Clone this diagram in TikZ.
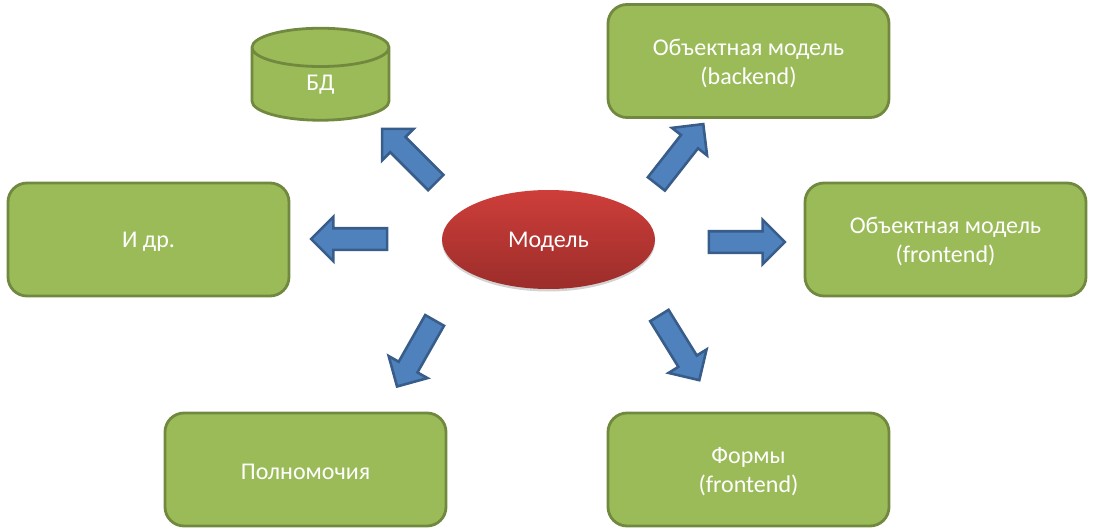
\documentclass[tikz,border=0pt]{standalone}
\usepackage{fontspec}
\setmainfont{Carlito}
\usetikzlibrary{shapes.geometric,shapes.arrows,shadows}
\definecolor{boxgreen}{RGB}{155,187,89}
\definecolor{boxline}{RGB}{113,137,63}
\definecolor{arrowblue}{RGB}{79,129,189}
\definecolor{arrowline}{RGB}{56,93,138}
\definecolor{ovaltop}{RGB}{206,62,58}
\definecolor{ovalbottom}{RGB}{155,45,42}
\newcommand{\lowtext}[1]{\raisebox{-2pt}[\height][\depth]{#1}}
\tikzset{
  greenbox/.style={rectangle,rounded corners=19pt,draw=boxline,fill=boxgreen,line width=2.8pt,
    minimum width=281pt,minimum height=113pt,text=white,align=center,inner sep=0,outer sep=0,
    font=\fontsize{24}{29}\selectfont},
  bluearrow/.style={single arrow,draw=arrowline,fill=arrowblue,line width=2.6pt,inner sep=0,inner ysep=9.5pt,
    outer sep=0,minimum height=76pt,single arrow head extend=11.5pt,single arrow tip angle=90},
}
\begin{document}
\begin{tikzpicture}[x=1pt,y=-1pt]
  \useasboundingbox (0,0) rectangle (1093,532);
  \node (model) at (548.5,239.5) [ellipse,minimum width=213pt,minimum height=99pt,inner sep=0,outer sep=0,
    top color=ovaltop,bottom color=ovalbottom,text=white,font=\fontsize{24}{29}\selectfont,
    drop shadow={shadow xshift=0pt,shadow yshift=-2.5pt,opacity=.35}] {\lowtext{Модель}};
  \node (db) at (320.5,84.5) [cylinder,shape border rotate=90,aspect=1.35,minimum width=137pt,minimum height=92pt,
    draw=boxline,fill=boxgreen,line width=2.8pt,inner sep=0,outer sep=0,text=white,
    font=\fontsize{24}{29}\selectfont] {БД};
  \node (objback) at (748.5,61) [greenbox] {\lowtext{Объектная модель}\\\lowtext{(backend)}};
  \node (objfront) at (945.5,239.5) [greenbox] {\lowtext{Объектная модель}\\\lowtext{(frontend)}};
  \node (forms) at (748.5,469.5) [greenbox] {\lowtext{Формы}\\\lowtext{(frontend)}};
  \node (rights) at (305.5,469.5) [greenbox] {\lowtext{Полномочия}};
  \node (other) at (148.5,239.5) [greenbox] {\lowtext{И др.}};
  \node (todb) at (412.75,159.5) [bluearrow,rotate=135] {};
  \node (toback) at (676.5,158.25) [bluearrow,rotate=51.9] {};
  \node (tofront) at (741.5,242) [bluearrow] {};
  \node (toforms) at (676.5,343.25) [bluearrow,rotate=-58.3] {};
  \node (torights) at (418.5,348.75) [bluearrow,rotate=240.4] {};
  \node (toother) at (354.5,239) [bluearrow,rotate=180] {};
\end{tikzpicture}
\end{document}
